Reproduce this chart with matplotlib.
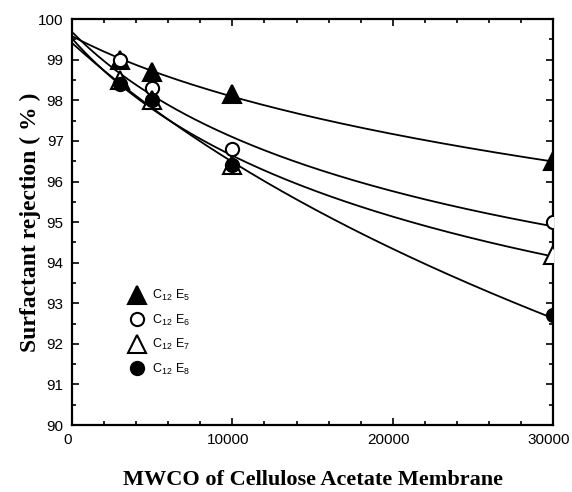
import numpy as np
import matplotlib
matplotlib.use("Agg")
from matplotlib import pyplot as plt
from matplotlib.ticker import MultipleLocator
from matplotlib.transforms import ScaledTranslation

# membrane cut-off (Da) and rejection (%) for each surfactant
mwco = [3000, 5000, 10000, 30000]
rej_e5 = [99.0, 98.7, 98.15, 96.5]
rej_e6 = [99.0, 98.3, 96.8, 95.0]
rej_e7 = [98.5, 98.0, 96.4, 94.2]
rej_e8 = [98.4, 98.0, 96.4, 92.7]

# fitted curves: value at MWCO = 0 and at MWCO = 20000
curve_start = [99.6, 99.45, 99.4, 99.35]
curve_mid = [97.14, 95.67, 95.12, 94.24]

labels = [r"$\mathregular{C_{12}\ E_5}$", r"$\mathregular{C_{12}\ E_6}$",
          r"$\mathregular{C_{12}\ E_7}$", r"$\mathregular{C_{12}\ E_8}$"]

plt.rcParams['font.family'] = ['Liberation Sans', 'DejaVu Sans']
plt.rcParams['mathtext.fontset'] = 'custom'
plt.rcParams['mathtext.rm'] = 'Liberation Sans'

fig = plt.figure(figsize=(5.72, 4.92), dpi=100)
ax = fig.add_axes([0.126, 0.136, 0.841, 0.825])

styles = [
    dict(marker='^', mfc='black', mec='black', ms=12.5),
    dict(marker='o', mfc='white', mec='black', ms=9.5),
    dict(marker='^', mfc='white', mec='black', ms=12.5),
    dict(marker='o', mfc='black', mec='black', ms=9.5),
]
series = [rej_e5, rej_e6, rej_e7, rej_e8]


def warp(x):
    return np.log1p(np.asarray(x, dtype=float) / 10000)


xs = np.linspace(0, 30000, 300)
handles = []
for ys, y0, ym, st, lab in zip(series, curve_start, curve_mid, styles, labels):
    fx = warp(np.concatenate([[0], mwco, [20000]]))
    fy = np.concatenate([[y0], ys, [ym]])
    coef = np.polyfit(fx, fy, 2)
    ax.plot(xs, np.polyval(coef, warp(xs)), color='black', lw=1.3, zorder=2)
    h, = ax.plot(mwco, ys, ls='none', mew=1.5, zorder=3, label=lab, **st)
    handles.append(h)

ax.set_xlim(0, 30000)
ax.set_ylim(90, 100)
ax.xaxis.set_major_locator(MultipleLocator(10000))
ax.xaxis.set_minor_locator(MultipleLocator(2000))
ax.yaxis.set_major_locator(MultipleLocator(1))
ax.yaxis.set_minor_locator(MultipleLocator(0.5))
ax.tick_params(which='both', direction='in', top=True, right=True,
               width=1.2, labelsize=11, pad=6)
ax.tick_params(which='major', length=5)
ax.tick_params(which='minor', length=3)
for s in ax.spines.values():
    s.set_linewidth(1.6)

shift = ScaledTranslation(-4 / 100, 0, fig.dpi_scale_trans)
for t in ax.get_xticklabels():
    t.set_transform(t.get_transform() + shift)

ax.set_xlabel("MWCO of Cellulose Acetate Membrane", family='Liberation Serif',
              fontweight='bold', fontsize=16, labelpad=16)
ax.set_ylabel("Surfactant rejection ( % )", family='Liberation Serif',
              fontweight='bold', fontsize=17, labelpad=-2)

ax.legend(handles=handles, loc='upper left', bbox_to_anchor=(0.095, 0.365),
          frameon=False, fontsize=9, handletextpad=0.6, labelspacing=0.75,
          handlelength=1.2)

plt.savefig("out.png", dpi=100)
